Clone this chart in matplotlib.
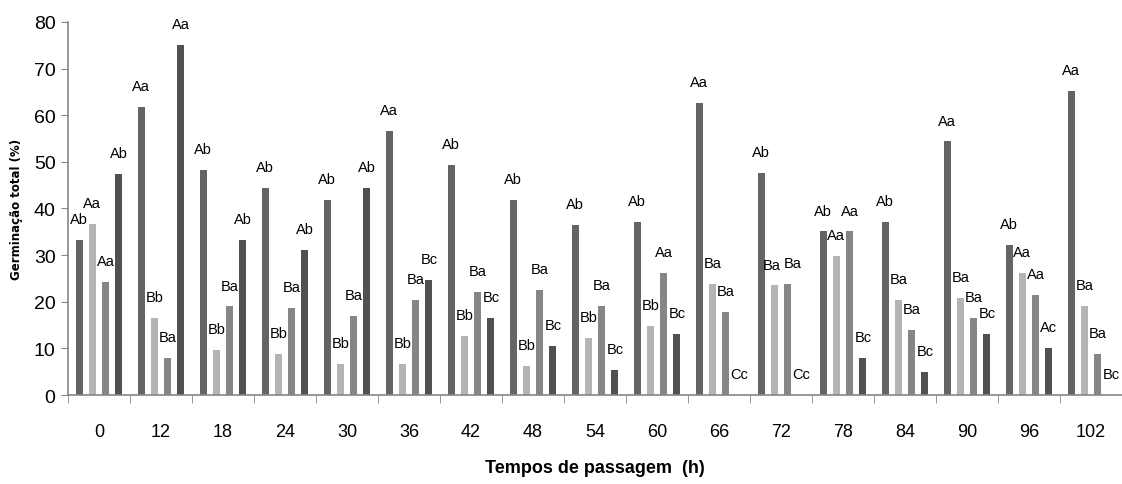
import numpy as np
import matplotlib
matplotlib.use("Agg")
import matplotlib.pyplot as plt
from matplotlib import font_manager

# data
tempos = ["0", "12", "18", "24", "30", "36", "42", "48", "54", "60",
          "66", "72", "78", "84", "90", "96", "102"]
serie1 = [33.3, 61.7, 48.3, 44.4, 41.9, 56.6, 49.3, 41.9, 36.4, 37.2,
          62.6, 47.6, 35.1, 37.2, 54.4, 32.1, 65.2]
serie2 = [36.7, 16.5, 9.7, 8.9, 6.7, 6.6, 12.6, 6.2, 12.2, 14.9,
          23.9, 23.5, 29.9, 20.4, 20.9, 26.1, 19.1]
serie3 = [24.2, 8.0, 19.0, 18.6, 16.9, 20.4, 22.1, 22.6, 19.1, 26.1,
          17.9, 23.9, 35.1, 14.0, 16.5, 21.4, 8.8]
serie4 = [47.5, 75.0, 33.3, 31.1, 44.4, 24.7, 16.5, 10.5, 5.4, 13.1,
          0.0, 0.0, 7.9, 4.9, 13.1, 10.1, 0.0]
letras1 = ["Ab", "Aa", "Ab", "Ab", "Ab", "Aa", "Ab", "Ab", "Ab", "Ab",
           "Aa", "Ab", "Ab", "Ab", "Aa", "Ab", "Aa"]
letras2 = ["Aa", "Bb", "Bb", "Bb", "Bb", "Bb", "Bb", "Bb", "Bb", "Bb",
           "Ba", "Ba", "Aa", "Ba", "Ba", "Aa", "Ba"]
letras3 = ["Aa", "Ba", "Ba", "Ba", "Ba", "Ba", "Ba", "Ba", "Ba", "Aa",
           "Ba", "Ba", "Aa", "Ba", "Ba", "Aa", "Ba"]
letras4 = ["Ab", "Aa", "Ab", "Ab", "Ab", "Bc", "Bc", "Bc", "Bc", "Bc",
           "Cc", "Cc", "Bc", "Bc", "Bc", "Ac", "Bc"]

series = [serie1, serie2, serie3, serie4]
letras = [letras1, letras2, letras3, letras4]
cores = ["#646464", "#b4b4b4", "#868686", "#505050"]
offsets = [-0.32, -0.107, 0.107, 0.32]
# small sideways nudges (points) where two labels sit side by side
nudges = {(11, 1): -2, (11, 2): 4}

names = {f.name for f in font_manager.fontManager.ttflist}
fonte = "Liberation Sans Narrow" if "Liberation Sans Narrow" in names else "Liberation Sans"
plt.rcParams["font.family"] = [fonte, "DejaVu Sans"]

fig = plt.figure(figsize=(11.22, 4.85), dpi=100)
ax = fig.add_axes([0.0606, 0.1835, 0.9394, 0.7691])

x = np.arange(len(tempos))
for j, (vals, labs, cor, off) in enumerate(zip(series, letras, cores, offsets)):
    ax.bar(x + off, vals, width=0.11, color=cor, zorder=2)
    for xi, v, lab in zip(x, vals, labs):
        dx = nudges.get((xi, j), 0)
        ax.annotate(lab, (xi + off, v), xytext=(dx, 15), textcoords="offset points",
                    ha="center", va="center", fontsize=10.5, color="black")

ax.set_xlim(-0.5, len(tempos) - 0.5)
ax.set_ylim(0, 80)
ax.set_yticks(np.arange(0, 81, 10))
ax.tick_params(axis="y", labelsize=14, length=5, color="#868686", pad=4)

ax.set_xticks(x)
ax.set_xticklabels(tempos)
ax.set_xticks(np.arange(-0.5, len(tempos), 1), minor=True)
ax.tick_params(axis="x", which="major", length=0, labelsize=13, pad=20)
ax.tick_params(axis="x", which="minor", length=6, color="#868686")

for s in ["top", "right"]:
    ax.spines[s].set_visible(False)
for s in ["left", "bottom"]:
    ax.spines[s].set_color("#868686")
    ax.spines[s].set_linewidth(1.2)

ax.set_xlabel("Tempos de passagem  (h)", fontsize=13, fontweight="bold", labelpad=14)
ax.set_ylabel("Germinação total (%)", fontsize=8.5, fontweight="bold",
              family="DejaVu Sans", labelpad=8)

fig.savefig("out.png", dpi=100)
